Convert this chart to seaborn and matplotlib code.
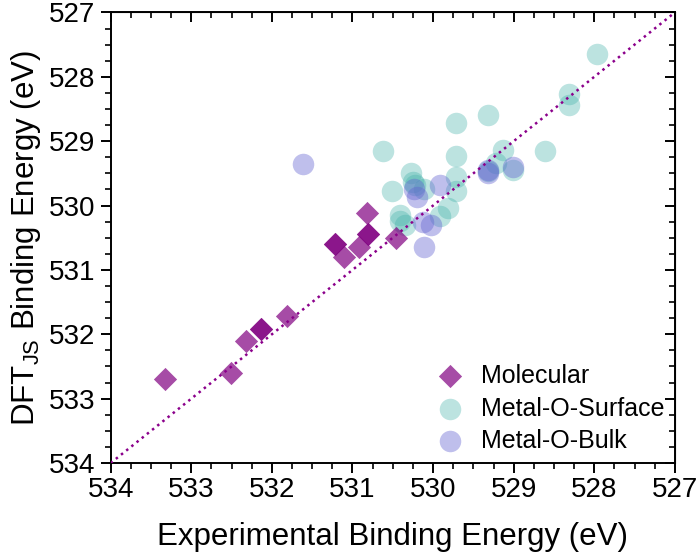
import numpy as np
import matplotlib
matplotlib.use("Agg")
import matplotlib.pyplot as plt
import seaborn as sns

sns.set_style("ticks")
plt.rcParams['font.family'] = ['Liberation Sans', 'DejaVu Sans']
plt.rcParams['mathtext.fontset'] = 'custom'
plt.rcParams['mathtext.rm'] = 'Liberation Sans'
plt.rcParams['text.color'] = 'black'
plt.rcParams['axes.labelcolor'] = 'black'
plt.rcParams['xtick.color'] = 'black'
plt.rcParams['ytick.color'] = 'black'
plt.rcParams['axes.edgecolor'] = 'black'

# 실험값(x) vs DFT 계산값(y), eV
mol_exp = [533.32, 532.51, 532.32, 532.13, 532.13, 531.81, 531.22, 531.22, 531.11,
           530.92, 530.81, 530.81, 530.82, 530.46]
mol_dft = [532.70, 532.60, 532.10, 531.92, 531.92, 531.72, 530.60, 530.60, 530.80,
           530.65, 530.45, 530.45, 530.12, 530.50]

surf_exp = [527.97, 528.32, 528.32, 529.32, 529.72, 530.62, 529.72, 528.61, 529.13,
            529.22, 529.01, 530.27, 529.72, 530.25, 530.22, 530.51, 530.11, 529.72,
            529.81, 529.91, 530.41, 530.41, 529.32, 530.35]
surf_dft = [527.64, 528.27, 528.44, 528.59, 528.72, 529.16, 529.23, 529.16, 529.13,
            529.34, 529.45, 529.50, 529.56, 529.63, 529.68, 529.77, 529.75, 529.78,
            530.04, 530.17, 530.15, 530.24, 529.47, 530.30]

bulk_exp = [531.62, 530.20, 529.91, 530.12, 530.02, 530.11, 529.32, 529.32, 529.01, 530.24]
bulk_dft = [529.35, 529.86, 529.68, 530.25, 530.30, 530.64, 529.45, 529.50, 529.40, 529.74]

fig = plt.figure(figsize=(6.97, 5.59), dpi=100)
ax = fig.add_axes([0.1588, 0.1717, 0.8095, 0.8061])

sns.scatterplot(x=mol_exp, y=mol_dft, marker="D", color="#800080", alpha=0.7,
                s=140, linewidth=0, label="Molecular", zorder=3, ax=ax)
sns.scatterplot(x=surf_exp, y=surf_dft, marker="o", color="#40b0a8", alpha=0.35,
                s=240, linewidth=0, label="Metal-O-Surface", zorder=1, ax=ax)
sns.scatterplot(x=bulk_exp, y=bulk_dft, marker="o", color="#6060d0", alpha=0.4,
                s=240, linewidth=0, label="Metal-O-Bulk", zorder=2, ax=ax)

# y = x 기준선
ax.plot([534, 527], [534, 527], linestyle=":", color="#8b008b", linewidth=1.8, zorder=4)

ax.set_xlim(534, 527)
ax.set_ylim(534, 527)
ticks = np.arange(527, 535, 1)
minor = np.arange(527, 534.01, 0.25)
ax.set_xticks(ticks)
ax.set_yticks(ticks)
ax.set_xticks(minor, minor=True)
ax.set_yticks(minor, minor=True)
ax.tick_params(which="major", direction="out", length=7, width=1.4, labelsize=20)
ax.tick_params(which="minor", direction="out", length=4, width=1.2)
ax.tick_params(axis="x", pad=3)
ax.tick_params(axis="y", pad=4)
for sp in ax.spines.values():
    sp.set_linewidth(1.4)

# 위/오른쪽 안쪽 눈금
top = ax.secondary_xaxis("top")
top.set_xticks(ticks)
top.set_xticks(minor, minor=True)
top.tick_params(which="major", direction="in", length=7, width=1.4, labeltop=False)
top.tick_params(which="minor", direction="in", length=4, width=1.2)
right = ax.secondary_yaxis("right")
right.set_yticks(ticks)
right.set_yticks(minor, minor=True)
right.tick_params(which="major", direction="in", length=7, width=1.4, labelright=False)
right.tick_params(which="minor", direction="in", length=4, width=1.2)

ax.set_xlabel("Experimental Binding Energy (eV)", fontsize=22.5, labelpad=14)
ax.set_ylabel(r"DFT$_{\mathregular{JS}}$ Binding Energy (eV)", fontsize=22.5, labelpad=4)

ax.legend(loc="lower right", frameon=False, fontsize=18, handletextpad=0.25,
          labelspacing=0.34, borderpad=0.1, borderaxespad=0.3, bbox_to_anchor=(1.0, 0.0))

fig.savefig("out.png", dpi=100)
